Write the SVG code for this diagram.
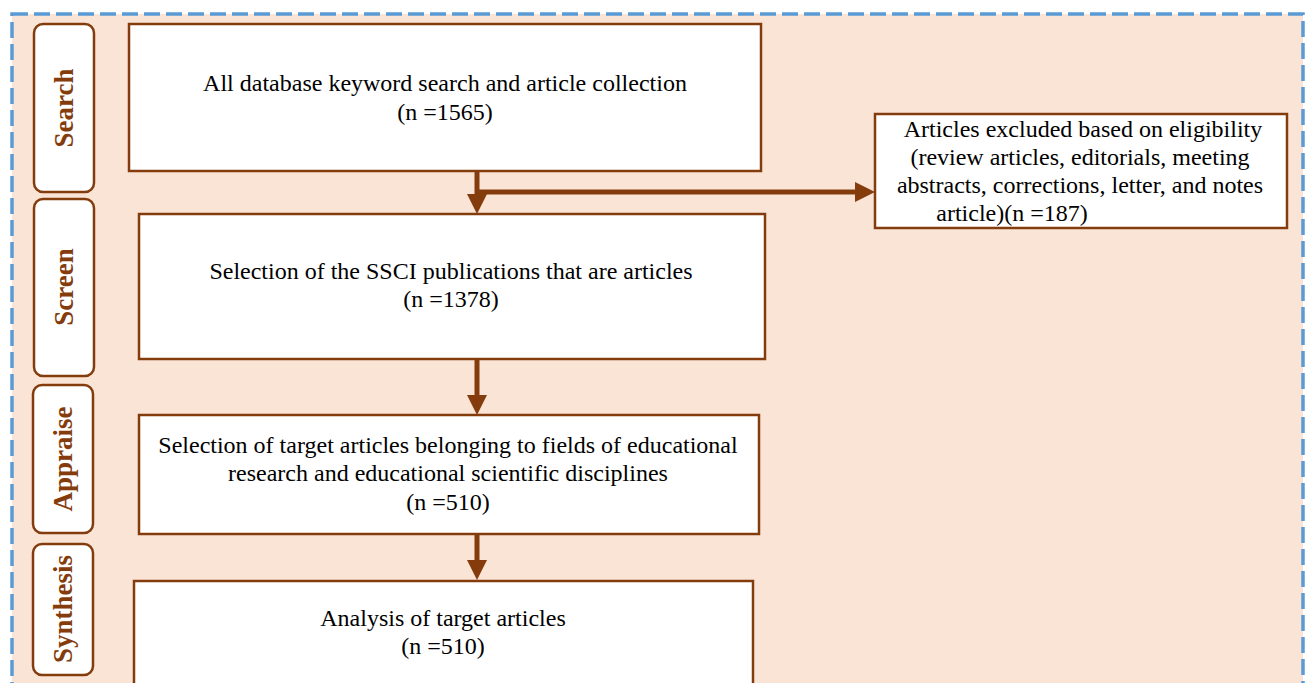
<svg xmlns="http://www.w3.org/2000/svg" width="1306" height="683" viewBox="0 0 1306 683">
<defs>
<style>
.bg{fill:#FAE4D6;stroke:#5B9BD5;stroke-width:3.5;stroke-dasharray:16 6}
.box{fill:#FFFFFF;stroke:#843C0C;stroke-width:2.5}
.stage{fill:#FFFFFF;stroke:#843C0C;stroke-width:2.5}
.t{font-family:"Liberation Serif","Times New Roman",serif;font-size:24px;fill:#000;text-anchor:middle}
.s{font-family:"Liberation Serif","Times New Roman",serif;font-size:27px;font-weight:bold;fill:#843C0C;text-anchor:middle}
.c{stroke:#843C0C;stroke-width:5;fill:none}
</style>
<marker id="ah" markerWidth="4" markerHeight="4" refX="2.4" refY="2" orient="auto" markerUnits="strokeWidth">
<path d="M0,0 L4,2 L0,4 Z" fill="#843C0C"/>
</marker>
</defs>
<rect x="0" y="0" width="1306" height="683" fill="#FFFFFF"/>
<rect class="bg" x="12" y="14" width="1291" height="690"/>

<g id="stage-search"><rect class="stage" x="34" y="24" width="60" height="168" rx="9"/><text class="s" transform="translate(73,108) rotate(-90)">Search</text></g>
<g id="stage-screen"><rect class="stage" x="34" y="199" width="60" height="177" rx="9"/><text class="s" transform="translate(73,287) rotate(-90)">Screen</text></g>
<g id="stage-appraise"><rect class="stage" x="33" y="385" width="60" height="148" rx="9"/><text class="s" transform="translate(72,459) rotate(-90)">Appraise</text></g>
<g id="stage-synthesis"><rect class="stage" x="33" y="544" width="60" height="131" rx="9"/><text class="s" transform="translate(72,609) rotate(-90)">Synthesis</text></g>

<g id="connectors">
<line class="c" x1="477" y1="171" x2="477" y2="206" marker-end="url(#ah)"/>
<line class="c" x1="477" y1="192" x2="867" y2="192" marker-end="url(#ah)"/>
<line class="c" x1="477" y1="359" x2="477" y2="407" marker-end="url(#ah)"/>
<line class="c" x1="477" y1="534" x2="477" y2="572" marker-end="url(#ah)"/>
</g>

<g id="n1"><rect class="box" x="129" y="24" width="632" height="147"/>
<text class="t" x="445" y="91">All database keyword search and article collection</text>
<text class="t" x="445" y="120">(n =1565)</text></g>

<g id="n2"><rect class="box" x="139" y="214" width="626" height="145"/>
<text class="t" x="451" y="279">Selection of the SSCI publications that are articles</text>
<text class="t" x="451" y="307">(n =1378)</text></g>

<g id="n3"><rect class="box" x="139" y="415" width="620" height="119"/>
<text class="t" x="448" y="453">Selection of target articles belonging to fields of educational</text>
<text class="t" x="448" y="481">research and educational scientific disciplines</text>
<text class="t" x="448" y="510">(n =510)</text></g>

<g id="n4"><rect class="box" x="134" y="581" width="619" height="110"/>
<text class="t" x="443" y="626">Analysis of target articles</text>
<text class="t" x="443" y="654">(n =510)</text></g>

<g id="n5"><rect class="box" x="875" y="114" width="412" height="114"/>
<text class="t" x="1083" y="137">Articles excluded based on eligibility</text>
<text class="t" x="1080" y="165">(review articles, editorials, meeting</text>
<text class="t" x="1080" y="193">abstracts, corrections, letter, and notes</text>
<text class="t" x="1012" y="221">article)(n =187)</text></g>
</svg>
